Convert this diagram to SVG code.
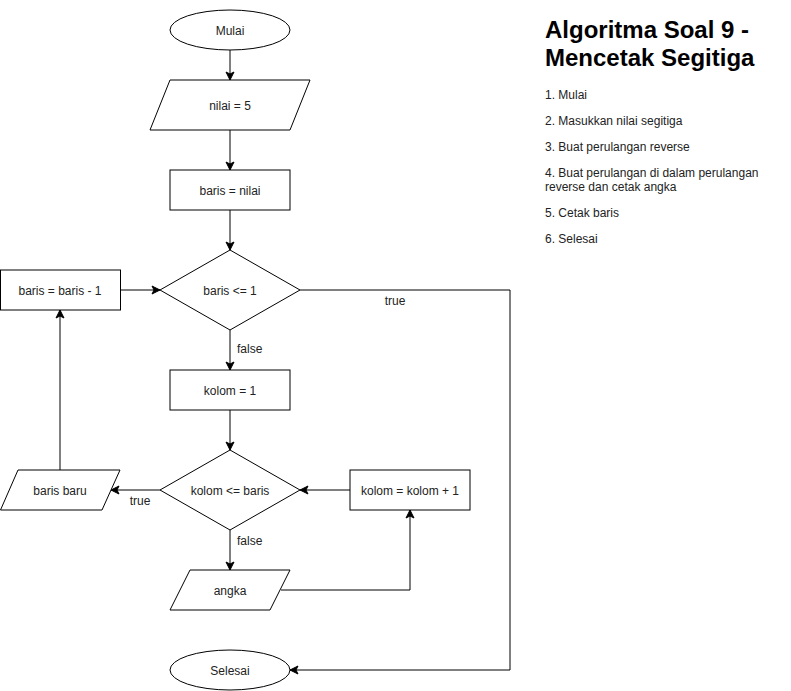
<svg xmlns="http://www.w3.org/2000/svg" width="791" height="691" viewBox="0 0 791 691">
<style>
.s{fill:#fff;stroke:#000;stroke-width:1}
.t{font-family:"Liberation Sans",Arial,sans-serif;font-size:12px;fill:#222;text-anchor:middle}
.l{font-family:"Liberation Sans",Arial,sans-serif;font-size:12px;fill:#222}
.h{font-family:"Liberation Sans",Arial,sans-serif;font-size:24px;font-weight:bold;fill:#000}
.c{fill:none;stroke:#000;stroke-width:1;marker-end:url(#a)}
</style>
<defs>
<marker id="a" markerUnits="userSpaceOnUse" markerWidth="12" markerHeight="12" refX="8" refY="4.5" orient="auto" overflow="visible">
<path d="M8,4.5 L0,0.5 L2,4.5 L0,8.5 Z" fill="#000" stroke="#000" stroke-width="1"/>
</marker>
</defs>
<rect width="791" height="691" fill="#fff"/>
<g id="connectors">
<path class="c" d="M230,50 L230,80"/>
<path class="c" d="M230,130 L230,170"/>
<path class="c" d="M230,210 L230,250"/>
<path class="c" d="M120,290 L160,290"/>
<path class="c" d="M300,290 L510,290 L510,670 L290,670"/>
<path class="c" d="M230,330 L230,370"/>
<path class="c" d="M230,410 L230,450"/>
<path class="c" d="M160,490 L111,490"/>
<path class="c" d="M350,490 L300,490"/>
<path class="c" d="M230,530 L230,570"/>
<path class="c" d="M281,590 L410,590 L410,510"/>
<path class="c" d="M60,470 L60,310"/>
<text class="t" x="395" y="305">true</text>
<text class="l" x="237" y="353">false</text>
<text class="t" x="140" y="505">true</text>
<text class="l" x="237" y="545">false</text>
</g>
<g id="mulai"><ellipse class="s" cx="230" cy="30" rx="60" ry="20"/><text class="t" x="230" y="35">Mulai</text></g>
<g id="nilai"><polygon class="s" points="170,80 310,80 290,130 150,130"/><text class="t" x="230" y="110">nilai = 5</text></g>
<g id="barisNilai"><rect class="s" x="170" y="170" width="120" height="40"/><text class="t" x="230" y="195">baris = nilai</text></g>
<g id="cekBaris"><polygon class="s" points="230,250 300,290 230,330 160,290"/><text class="t" x="230" y="295">baris &lt;= 1</text></g>
<g id="barisKurang"><rect class="s" x="0.5" y="270" width="120" height="40"/><text class="t" x="60" y="295">baris = baris - 1</text></g>
<g id="kolom1"><rect class="s" x="170" y="370" width="120" height="40"/><text class="t" x="230" y="395">kolom = 1</text></g>
<g id="cekKolom"><polygon class="s" points="230,450 300,490 230,530 160,490"/><text class="t" x="230" y="495">kolom &lt;= baris</text></g>
<g id="barisBaru"><polygon class="s" points="18,470 120,470 102,510 0.5,510"/><text class="t" x="60" y="495">baris baru</text></g>
<g id="kolomTambah"><rect class="s" x="350" y="470" width="120" height="40"/><text class="t" x="410" y="495">kolom = kolom + 1</text></g>
<g id="angka"><polygon class="s" points="190,570 290,570 270,610 170,610"/><text class="t" x="230" y="595">angka</text></g>
<g id="selesai"><ellipse class="s" cx="230" cy="670" rx="60" ry="20"/><text class="t" x="230" y="675">Selesai</text></g>
<g id="keterangan">
<text class="h" x="545" y="38">Algoritma Soal 9 -</text>
<text class="h" x="545" y="66">Mencetak Segitiga</text>
<text class="l" x="545" y="99">1. Mulai</text>
<text class="l" x="545" y="125">2. Masukkan nilai segitiga</text>
<text class="l" x="545" y="151">3. Buat perulangan reverse</text>
<text class="l" x="545" y="177">4. Buat perulangan di dalam perulangan</text>
<text class="l" x="545" y="191">reverse dan cetak angka</text>
<text class="l" x="545" y="217">5. Cetak baris</text>
<text class="l" x="545" y="243">6. Selesai</text>
</g>
</svg>
